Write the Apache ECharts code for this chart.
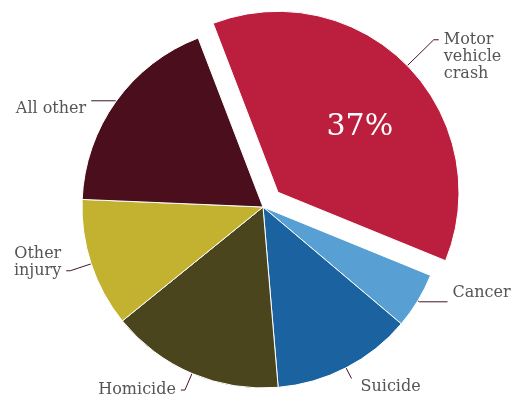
<!DOCTYPE html>
<html>
<head>
<meta charset="utf-8">
<script src="https://cdn.jsdelivr.net/npm/echarts@6/dist/echarts.min.js"></script>
<style>
  html, body { margin: 0; padding: 0; background: #fff; }
  #main { width: 512px; height: 402px; }
</style>
</head>
<body>
<div id="main"></div>
<script>
// 各类死因占比（%）
var categories = ['Motor\nvehicle\ncrash', 'Cancer', 'Suicide', 'Homicide', 'Other\ninjury', 'All other'];
var shares = [37, 5, 12.5, 15.5, 11.5, 18.5];
var colors = ['#bc1f3e', '#58a0d3', '#1a63a0', '#4b451e', '#c2b230', '#4a0e1d'];

// per-slice label tweaks: leader line lengths, blank lines before/after the text
// (blank lines move the text relative to the end of the leader line)
var labelTweaks = [
    { length: 37, length2: 5, before: 2, after: 0 },
    { length: 2, length2: 28, before: 0, after: 1 },
    { length: 12, length2: 0, before: 1, after: 0, dist: 9 },
    { length: 18, length2: 4, before: 0, after: 0 },
    { length: 22, length2: 4, before: 0, after: 1 },
    { length: 1, length2: 24, before: 1, after: 0 }
];

function blank(n) {
    var s = '';
    for (var k = 0; k < n; k++) s += '\n';
    return s;
}

var myChart = echarts.init(document.getElementById('main'));

var pieData = categories.map(function (name, i) {
    var t = labelTweaks[i];
    return {
        name: name,
        value: shares[i],
        selected: i === 0,
        itemStyle: { color: colors[i] },
        label: {
            formatter: blank(t.before) + name + blank(t.after),
            distanceToLabelLine: t.dist != null ? t.dist : 5
        },
        labelLine: { length: t.length, length2: t.length2 }
    };
});

// transparent copy, only to put the percentage inside the big slice
var innerData = categories.map(function (name, i) {
    return {
        name: name,
        value: shares[i],
        selected: i === 0,
        itemStyle: { color: 'rgba(0,0,0,0)', borderWidth: 0 },
        label: { show: i === 0 }
    };
});

var option = {
    animation: false,
    series: [{
        type: 'pie',
        center: [263, 207],
        radius: [0, 181],
        startAngle: 111,
        selectedMode: 'single',
        selectedOffset: 21,
        avoidLabelOverlap: false,
        silent: true,
        itemStyle: { borderColor: '#fff', borderWidth: 1 },
        label: {
            show: true,
            position: 'outside',
            fontFamily: 'DejaVu Serif',
            fontSize: 16,
            lineHeight: 17,
            color: '#555'
        },
        labelLine: {
            show: true,
            lineStyle: { color: '#40142a', width: 1 }
        },
        data: pieData
    }, {
        type: 'pie',
        center: [263, 207],
        radius: [0, 181],
        startAngle: 111,
        selectedMode: 'single',
        selectedOffset: 21,
        silent: true,
        label: {
            position: 'inside',
            formatter: function (p) { return p.value + '%'; },
            fontFamily: 'DejaVu Serif',
            fontSize: 30,
            color: '#fff',
            // nudge the text right/down inside the slice
            padding: [4, 0, 0, 30]
        },
        labelLine: { show: false },
        data: innerData
    }]
};

myChart.setOption(option);
</script>
</body>
</html>
